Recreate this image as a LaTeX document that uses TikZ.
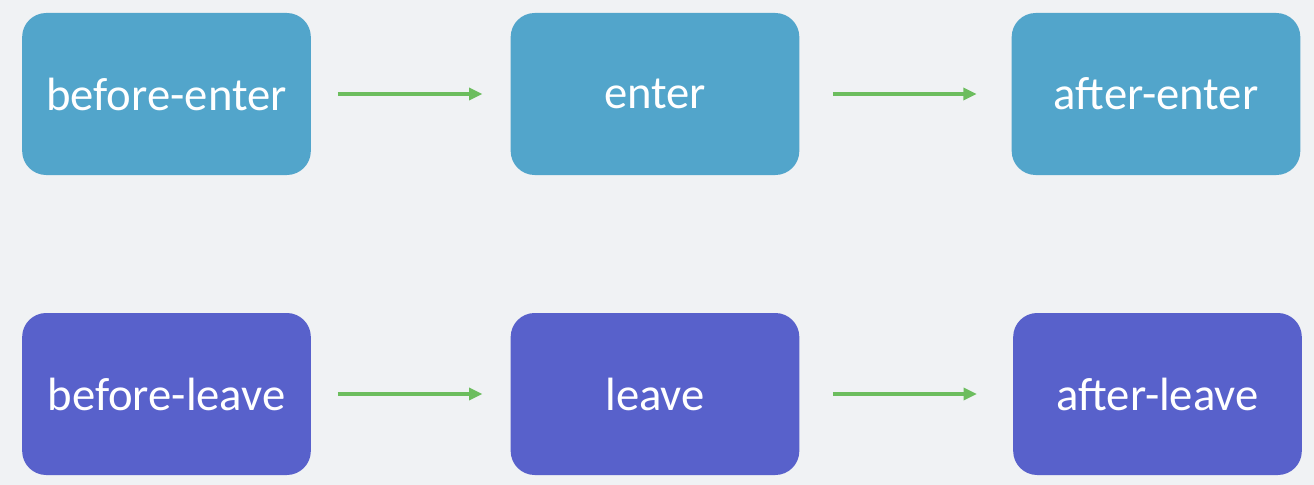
\documentclass[tikz,border=0pt]{standalone}
\usepackage{fontspec}
\setmainfont{Carlito}
\usetikzlibrary{arrows.meta}
\definecolor{bgc}{HTML}{F0F2F4}
\definecolor{enterc}{HTML}{52A5CB}
\definecolor{leavec}{HTML}{5861CB}
\definecolor{arrc}{HTML}{6CBD5E}
\begin{document}
\begin{tikzpicture}[x=0.75pt,y=-0.75pt,
  box/.style={rectangle,rounded corners=18pt,minimum width=216.5pt,minimum height=121.5pt,
    text=white,font=\fontsize{35}{42}\selectfont,inner sep=0pt},
  ebox/.style={box,fill=enterc},
  lbox/.style={box,fill=leavec},
  flow/.style={draw=arrc,line width=3pt,-{Triangle[length=10pt,width=9pt]}}]
\fill[bgc] (0,0) rectangle (1314,485);
\useasboundingbox (0,0) rectangle (1314,485);
\node[ebox] (be) at (166.5,94) {before-enter};
\node[ebox] (en) at (655,94) {enter};
\node[ebox] (ae) at (1156,94) {after-enter};
\node[lbox] (bl) at (166.5,394) {before-leave};
\node[lbox] (lv) at (655,394) {leave};
\node[lbox] (al) at (1157.5,394) {after-leave};
\draw[flow,shorten <=20pt,shorten >=21pt] (be) -- (en);
\draw[flow,shorten <=25pt,shorten >=26pt] (en) -- (ae);
\draw[flow,shorten <=20pt,shorten >=21pt] (bl) -- (lv);
\draw[flow,shorten <=25pt,shorten >=27pt] (lv) -- (al);
\end{tikzpicture}
\end{document}
